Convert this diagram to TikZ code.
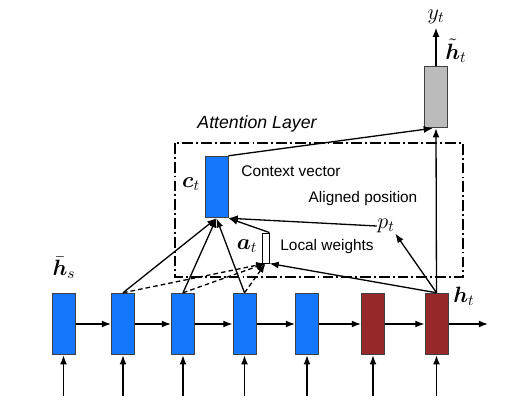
\documentclass[tikz,border=0pt]{standalone}
\usepackage{amsmath, amssymb}
\usepackage{fontspec}
\setsansfont{Liberation Sans}
\usepackage{tikz}
\usetikzlibrary{arrows.meta}
\usetikzlibrary{calc}
\usetikzlibrary{positioning}

\definecolor{cellblue}{RGB}{20,119,250}
\definecolor{cellred}{RGB}{150,40,42}
\definecolor{cellgray}{RGB}{187,187,187}

\begin{document}
\begin{tikzpicture}
	[
	x=0.65pt, y=-0.65pt,
	> = {Latex[length=6pt, width=4.5pt]},
	every path/.style = {line width=0.85pt},
	cell/.style = {draw=black!75, line width=0.6pt, minimum width=15pt, minimum height=40pt, inner sep=0pt},
	label/.style = {font=\sffamily\fontsize{10}{12}\selectfont, inner sep=1pt},
	sym/.style = {font=\fontsize{14}{16}\selectfont, inner sep=0pt}
	]
	\useasboundingbox (0,0) rectangle (518,414);

	% encoder / decoder states
	\foreach \x/\c [count=\i] in {63.5/cellblue,123/cellblue,183/cellblue,244.5/cellblue,307/cellblue,373/cellred,436.5/cellred}
	{
		\node[cell, fill=\c] (h\i) at (\x,324) {};
		\coordinate (in\i) at (\x,396);
		\draw[->] (in\i) -- (h\i.south);
	}
	\foreach \i/\j in {1/2,2/3,3/4,4/5,5/6,6/7}
		\draw[->] (h\i.east) -- (h\j.west);
	\coordinate (out) at (488,324);
	\draw[->] (h7.east) -- (out);

	\node[sym] (hs) at (64,268) {$\bar{\boldsymbol{h}}_s$};
	\node[sym] (hlab) at (464,296) {$\boldsymbol{h}_t$};

	% attention layer
	\draw[dash pattern=on 7pt off 2pt on 1.2pt off 2pt] (175,143) rectangle (463,277);
	\node[font=\sffamily\itshape\fontsize{11.5}{13}\selectfont] (title) at (257,124) {Attention Layer};

	\node[cell, fill=cellblue] (ct) at (216.5,187) {};
	\node[sym] (clab) at (191,184) {$\boldsymbol{c}_t$};
	\node[label] (cvec) at (291,171) {Context vector};

	\node[label] (apos) at (363,199) {Aligned position};
	\node[sym] (pt) at (386,226) {$p_t$};

	\node[draw, fill=white, line width=0.6pt, minimum width=4.5pt, minimum height=19.5pt, inner sep=0pt] (at) at (265.5,248) {};
	\node[sym] (alab) at (247,246) {$\boldsymbol{a}_t$};
	\node[label] (lw) at (327,247) {Local weights};

	% attentional hidden state
	\node[cell, fill=cellgray] (ht) at (436,97) {};
	\node[sym] (yt) at (436,17) {$y_t$};
	\node[sym] (htlab) at (456,51) {$\tilde{\boldsymbol{h}}_t$};
	\draw[->] (ht.north) -- ([yshift=-2pt]yt.south);
	\draw[->] (h7.north) -- (ht.south);
	\draw[->] (ct.north east) -- ([xshift=-2pt]ht.south);

	% context from source states
	\foreach \i in {2,3,4}
		\draw[->] (h\i.north) -- (ct.south);
	\draw[->] (pt.west) -- (ct.south east);
	\draw[->] (at.north east) -- (ct.south east);

	% local weights
	\foreach \i in {2,3,4}
		\draw[->, densely dashed] (h\i.north) -- (at.south);
	\draw[->] (h7.north) -- (at.south east);
	\draw[->] (h7.north) -- (pt.south east);
\end{tikzpicture}
\end{document}
